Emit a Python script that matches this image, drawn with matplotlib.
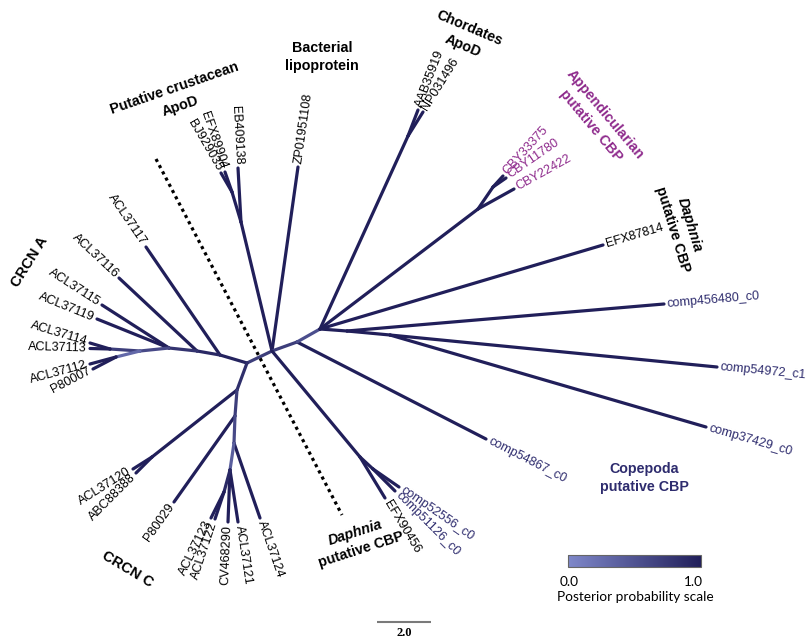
import numpy as np
import matplotlib
matplotlib.use("Agg")
import matplotlib.pyplot as plt
from matplotlib.colors import LinearSegmentedColormap

# ---------------- data ----------------
node_names = ["n_c", "n_1", "n_2", "n_3", "n_4", "n_5", "n_6", "n_7", "n_8", "n_8a",
              "n_9", "n_10", "n_11", "n_11a", "n_cr", "n_cr2", "n_r1", "n_r2", "n_ch",
              "n_ap", "n_ap2", "n_cp", "n_cp2", "n_d", "n_d2",
              "ACL37117", "ACL37116", "ACL37115", "ACL37119", "ACL37114", "ACL37113",
              "ACL37112", "P80007", "ACL37120", "ABC88388", "P80029", "ACL37123",
              "ACL37122", "CV468290", "ACL37121", "ACL37124", "EB409138", "EFX89904",
              "BJ929035", "ZP01951108", "AAB35919", "NP031496", "CBY33375", "CBY11780",
              "CBY22422", "EFX87814", "comp456480_c0", "comp54972_c1", "comp37429_c0",
              "comp54867_c0", "EFX90456", "comp52556_c0", "comp51126_c0"]
node_x = [272, 247, 220, 197, 169, 140, 110, 116, 237, 152,
          235, 234, 230, 224, 241, 232, 297, 320, 408,
          478, 493, 347, 390, 360, 373,
          146, 119, 102, 97, 90, 90,
          90, 93, 133, 136, 174, 211,
          215, 228, 238, 260, 238, 225,
          221, 298, 418, 423, 503, 506,
          514, 603, 664, 717, 706,
          486, 385, 399, 395]
node_y = [351, 363, 355, 351, 348, 351, 349, 357, 390, 457,
          416, 443, 470, 492, 222, 192, 342, 329, 136,
          209, 187, 331, 335, 457, 469,
          247, 278, 305, 319, 343, 348.5,
          364, 369, 469, 473, 502, 518,
          519, 522, 522, 518, 168, 172,
          173, 167, 110, 112, 176, 178,
          189, 245, 304, 367, 427,
          439, 498, 487, 491]

edge_parent = ["n_1", "n_1", "n_2", "n_2", "n_3", "n_3", "n_4", "n_4", "n_4", "n_5",
               "n_6", "n_6", "n_5", "n_7", "n_7", "n_1", "n_8", "n_8a", "n_8a", "n_8",
               "n_9", "n_9", "n_10", "n_10", "n_11", "n_11", "n_11", "n_11a", "n_11a",
               "n_c", "n_cr", "n_cr", "n_cr2", "n_cr2", "n_c", "n_c", "n_r1", "n_r1",
               "n_r2", "n_ch", "n_ch", "n_r2", "n_ap", "n_ap2", "n_ap2", "n_ap", "n_r2",
               "n_r2", "n_cp", "n_cp", "n_cp2", "n_cp2", "n_c", "n_d", "n_d", "n_d2", "n_d2"]
edge_child = ["n_c", "n_2", "ACL37117", "n_3", "ACL37116", "n_4", "ACL37115", "ACL37119", "n_5", "n_6",
              "ACL37114", "ACL37113", "n_7", "ACL37112", "P80007", "n_8", "n_8a", "ACL37120", "ABC88388", "n_9",
              "P80029", "n_10", "ACL37124", "n_11", "CV468290", "ACL37121", "n_11a", "ACL37123", "ACL37122",
              "n_cr", "EB409138", "n_cr2", "EFX89904", "BJ929035", "ZP01951108", "n_r1", "comp54867_c0", "n_r2",
              "n_ch", "AAB35919", "NP031496", "n_ap", "n_ap2", "CBY33375", "CBY11780", "CBY22422", "EFX87814",
              "n_cp", "comp456480_c0", "n_cp2", "comp54972_c1", "comp37429_c0", "n_d", "EFX90456", "n_d2",
              "comp52556_c0", "comp51126_c0"]
edge_posterior = [0.7, 0.95, 1.0, 0.9, 1.0, 0.8, 1.0, 1.0, 0.6, 0.7,
                  1.0, 1.0, 0.3, 1.0, 1.0, 0.85, 1.0, 1.0, 1.0, 0.7,
                  1.0, 0.6, 1.0, 0.4, 1.0, 1.0, 0.9, 1.0, 1.0,
                  1.0, 1.0, 1.0, 1.0, 1.0, 1.0, 0.7, 1.0, 0.55,
                  1.0, 1.0, 1.0, 1.0, 1.0, 1.0, 1.0, 1.0, 1.0,
                  1.0, 1.0, 1.0, 1.0, 1.0, 1.0, 1.0, 1.0, 1.0, 1.0]

purple_tips = ["CBY33375", "CBY11780", "CBY22422"]
navy_tips = ["comp456480_c0", "comp54972_c1", "comp37429_c0", "comp54867_c0",
             "comp52556_c0", "comp51126_c0"]

separator_x = [156, 342]
separator_y = [159, 515]
scale_bar_x = [377, 431]
scale_bar_y = [622, 622]
scale_bar_label = "2.0"
colorbar_ticks = ["0.0", "1.0"]
colorbar_title = "Posterior probability scale"

# ---------------- style ----------------
SANS = ["Liberation Sans", "DejaVu Sans"]
EDGE_LIGHT = "#7f88ca"
EDGE_DARK = "#211f5a"
PURPLE = "#8e2a8c"
NAVY = "#2e2c6e"

cmap = LinearSegmentedColormap.from_list("pp", [EDGE_LIGHT, EDGE_DARK])

fig = plt.figure(figsize=(8.08, 6.44), dpi=100)
ax = fig.add_axes([0, 0, 1, 1])
ax.set_xlim(0, 808)
ax.set_ylim(644, 0)
ax.axis("off")

pos = {n: (x, y) for n, x, y in zip(node_names, node_x, node_y)}
parent = {c: p for p, c in zip(edge_parent, edge_child)}

for p, c, pp in zip(edge_parent, edge_child, edge_posterior):
    (x0, y0), (x1, y1) = pos[p], pos[c]
    ax.plot([x0, x1], [y0, y1], color=cmap(pp), lw=2.3,
            solid_capstyle="round", zorder=2)

# tip labels
tips = [n for n in node_names if not n.startswith("n_")]
for name in tips:
    x, y = pos[name]
    px, py = pos[parent[name]]
    dx, dy = x - px, y - py
    L = np.hypot(dx, dy)
    ux, uy = dx / L, dy / L
    ang = np.degrees(np.arctan2(-dy, dx))
    tx, ty = x + ux * 3.5, y + uy * 3.5
    if dx >= 0:
        ha, rot = "left", ang
    else:
        ha, rot = "right", ang + 180
    col = PURPLE if name in purple_tips else (NAVY if name in navy_tips else "black")
    ax.text(tx, ty, name, rotation=rot, rotation_mode="anchor", ha=ha, va="center",
            fontsize=9.1, color=col, family=SANS, zorder=4)

# separator
ax.plot(separator_x, separator_y, color="black", lw=2.3,
        linestyle=(0, (1.0, 1.2)), dash_capstyle="butt", zorder=3)


def text_block(lines, cx, cy, angle, size=10.3, color="black", gap=18.5, styles=None):
    th = np.radians(angle)
    n = len(lines)
    for i, s in enumerate(lines):
        k = (i - (n - 1) / 2) * gap
        x = cx + k * np.sin(th)
        y = cy + k * np.cos(th)
        st = styles[i] if styles else "normal"
        ax.text(x, y, s, rotation=angle, rotation_mode="anchor", ha="center", va="center",
                fontsize=size, fontweight="bold", fontstyle=st, color=color, family=SANS)


text_block(["Putative crustacean", "ApoD"], 177, 97, 19)
text_block(["Bacterial", "lipoprotein"], 322, 57, 0)
text_block(["Chordates", "ApoD"], 466, 37, -23)
text_block(["Appendicularian", "putative CBP"], 598, 120, -50, color=PURPLE)
text_block(["Daphnia", "putative CBP"], 681, 227, -73, gap=17.5, styles=["italic", "normal"])
text_block(["Copepoda", "putative CBP"], 644, 478, 0, color=NAVY)
text_block(["Daphnia", "putative CBP"], 358, 541, 18, styles=["italic", "normal"])
text_block(["CRCN A"], 30, 262, 58, size=10.5)
text_block(["CRCN C"], 128, 569, -31, size=10.5)

# scale bar
ax.plot(scale_bar_x, scale_bar_y, color="#7a7a7a", lw=1.5, solid_capstyle="butt")
ax.text(np.mean(scale_bar_x), 633, scale_bar_label, ha="center", va="center",
        fontsize=9, fontweight="bold", family=["Liberation Serif", "DejaVu Serif"])

# posterior colour scale
grad = np.linspace(0, 1, 256).reshape(1, -1)
ax.imshow(grad, cmap=cmap, extent=(568, 701, 567, 555), aspect="auto", zorder=3)
ax.add_patch(plt.Rectangle((568, 555), 133, 12, fill=False, edgecolor="#666666", lw=0.8, zorder=4))
ax.text(560, 582, colorbar_ticks[0], ha="left", va="center", fontsize=9.8, family=["Lato", "DejaVu Sans"])
ax.text(703, 582, colorbar_ticks[1], ha="right", va="center", fontsize=9.8, family=["Lato", "DejaVu Sans"])
ax.text(557, 597, colorbar_title, ha="left", va="center", fontsize=9.8, family=["Lato", "DejaVu Sans"])

ax.set_xlim(0, 808)
ax.set_ylim(644, 0)
fig.savefig("out.png", dpi=100)
